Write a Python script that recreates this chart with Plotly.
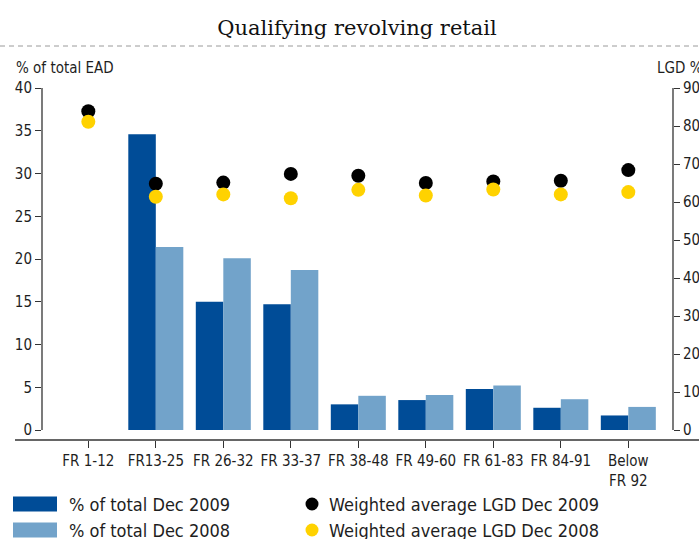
"""
Qualifying revolving retail - EAD share and weighted average LGD by grade
"""

import plotly.graph_objects as go

categories = ["FR 1-12", "FR13-25", "FR 26-32", "FR 33-37", "FR 38-48",
              "FR 49-60", "FR 61-83", "FR 84-91", "Below<br>FR 92"]
ead_2009 = [None, 34.6, 15.0, 14.7, 3.0, 3.5, 4.8, 2.6, 1.7]
ead_2008 = [None, 21.4, 20.1, 18.7, 4.0, 4.1, 5.2, 3.6, 2.7]
lgd_2009 = [83.9, 64.8, 65.1, 67.4, 66.9, 65.0, 65.4, 65.6, 68.4]
lgd_2008 = [81.1, 61.4, 62.0, 61.0, 63.2, 61.7, 63.3, 62.0, 62.6]
left_ticks = [0, 5, 10, 15, 20, 25, 30, 35, 40]
right_ticks = [0, 10, 20, 30, 40, 50, 60, 70, 80, 90]

DARK_BLUE = "#004c97"
LIGHT_BLUE = "#72a3ca"
YELLOW = "#ffd200"
TEXT = "#1e1e1e"
FONT = "Liberation Sans Narrow, DejaVu Sans Condensed, Roboto, sans-serif"

W, H = 699, 539
L, R, T, B = 42, 26, 88, 99
PW, PH = W - L - R, H - T - B


def px(x):
    return (x - L) / PW


def py(y):
    return (H - B - y) / PH


x = list(range(len(categories)))
y_low = -10 / (PH / 41.17)  # keep the zero line 10px above the x axis

fig = go.Figure()

fig.add_trace(go.Bar(x=x, y=ead_2009, name="% of total Dec 2009",
                     marker=dict(color=DARK_BLUE, line=dict(width=0))))
fig.add_trace(go.Bar(x=x, y=ead_2008, name="% of total Dec 2008",
                     marker=dict(color=LIGHT_BLUE, line=dict(width=0))))
fig.add_trace(go.Scatter(x=x, y=lgd_2009, mode="markers", yaxis="y2",
                         name="Weighted average LGD Dec 2009",
                         marker=dict(color="black", size=14)))
fig.add_trace(go.Scatter(x=x, y=lgd_2008, mode="markers", yaxis="y2",
                         name="Weighted average LGD Dec 2008",
                         marker=dict(color=YELLOW, size=14)))

shapes = []
# dashed rule under the title
shapes.append(dict(type="line", xref="paper", yref="paper",
                   x0=px(0), x1=px(W), y0=py(46), y1=py(46),
                   line=dict(color="#9a9a9a", width=1, dash="5px,4px")))
# x axis line, wider than the plot
shapes.append(dict(type="line", xref="paper", yref="paper",
                   x0=px(15), x1=px(W), y0=0, y1=0,
                   line=dict(color="#333333", width=1.3)))
# y axis lines, only from 0 to the top value
shapes.append(dict(type="line", xref="paper", yref="y", x0=0, x1=0,
                   y0=0, y1=40, line=dict(color="#333333", width=1.3)))
shapes.append(dict(type="line", xref="paper", yref="y", x0=1, x1=1,
                   y0=0, y1=40, line=dict(color="#333333", width=1.3)))

# manual legend
legend_rows = [
    (504, DARK_BLUE, "% of total Dec 2009", "black", "Weighted average LGD Dec 2009"),
    (530, LIGHT_BLUE, "% of total Dec 2008", YELLOW, "Weighted average LGD Dec 2008"),
]
annotations = []
for ry, bar_col, bar_txt, dot_col, dot_txt in legend_rows:
    shapes.append(dict(type="rect", xref="paper", yref="paper",
                       x0=px(13), x1=px(57), y0=py(ry - 7.5), y1=py(ry + 7.5),
                       fillcolor=bar_col, line=dict(width=0)))
    shapes.append(dict(type="circle", xref="paper", yref="paper",
                       x0=px(305.5), x1=px(318.5), y0=py(ry - 6.5), y1=py(ry + 6.5),
                       fillcolor=dot_col, line=dict(width=0)))
    annotations.append(dict(text=bar_txt, xref="paper", yref="paper",
                            x=px(67), y=py(ry), xanchor="left", yanchor="middle",
                            showarrow=False, font=dict(size=18, color=TEXT)))
    annotations.append(dict(text=dot_txt, xref="paper", yref="paper",
                            x=px(327), y=py(ry), xanchor="left", yanchor="middle",
                            showarrow=False, font=dict(size=18, color=TEXT)))

annotations.append(dict(text="% of total EAD", xref="paper", yref="paper",
                        x=px(14), y=py(68), xanchor="left", yanchor="middle",
                        showarrow=False, font=dict(size=15, color=TEXT)))
annotations.append(dict(text="LGD %", xref="paper", yref="paper",
                        x=px(655), y=py(68), xanchor="left", yanchor="middle",
                        showarrow=False, font=dict(size=15, color=TEXT)))

fig.update_layout(
    width=W, height=H,
    margin=dict(l=L, r=R, t=T, b=B, autoexpand=False),
    paper_bgcolor="white", plot_bgcolor="white",
    font=dict(family=FONT, color=TEXT, size=15),
    title=dict(text="Qualifying revolving retail", x=357 / W, xanchor="center",
               y=1 - 28 / H, yanchor="middle",
               font=dict(family="DejaVu Serif, serif", size=21, color="#111111")),
    barmode="group", bargap=0.185, bargroupgap=0,
    showlegend=False,
    xaxis=dict(tickvals=x, ticktext=categories, range=[-0.686, 8.662],
               showline=False, showgrid=False, zeroline=False, automargin=False,
               ticks="outside", ticklen=7, tickcolor="#333333",
               tickfont=dict(size=15)),
    yaxis=dict(range=[y_low, 40], tickvals=left_ticks, showgrid=False,
               zeroline=False, showline=False, ticks="outside", ticklen=6,
               automargin=False, tickcolor="#333333", tickfont=dict(size=15)),
    yaxis2=dict(range=[y_low * 90 / 40, 90], tickvals=right_ticks,
                overlaying="y", side="right", showgrid=False, zeroline=False,
                showline=False, ticks="outside", ticklen=6, automargin=False,
                tickcolor="#333333", tickfont=dict(size=15)),
    shapes=shapes,
    annotations=annotations,
)

# the page's default body margin would shift the chart by 8px
fig.write_html("out.html", config={"displayModeBar": False},
               post_script="document.body.style.margin='0';")
